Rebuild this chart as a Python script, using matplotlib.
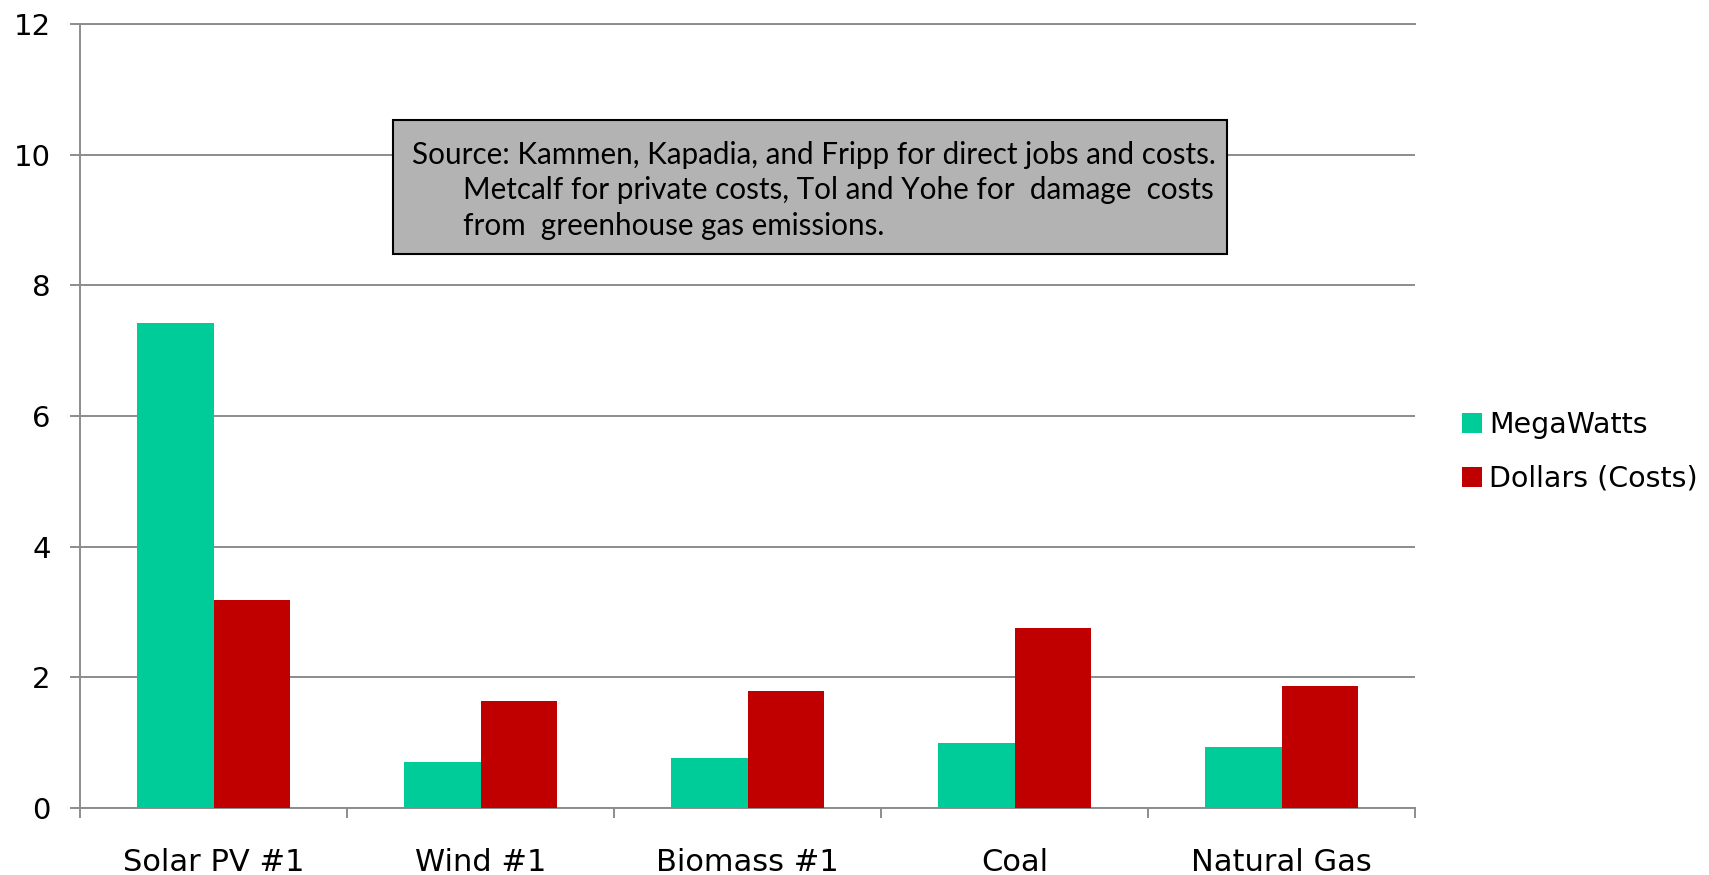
import numpy as np
import matplotlib
matplotlib.use('Agg')
import matplotlib.pyplot as plt
from matplotlib.patches import Rectangle

categories = ['Solar PV #1', 'Wind #1', 'Biomass #1', 'Coal', 'Natural Gas']
megawatts = [7.42, 0.70, 0.77, 1.00, 0.94]
dollars = [3.19, 1.64, 1.79, 2.75, 1.87]
series_names = ['MegaWatts', 'Dollars (Costs)']
source_lines = [
    'Source: Kammen, Kapadia, and Fripp for direct jobs and costs.',
    'Metcalf for private costs, Tol and Yohe for  damage  costs',
    'from  greenhouse gas emissions.',
]

green = '#00CC99'
red = '#C00000'
grey = '#8C8C8C'
tick_font = ['DejaVu Sans']
box_font = ['Lato', 'DejaVu Sans']

W, H = 1709, 875
fig = plt.figure(figsize=(W / 100, H / 100), dpi=100)
ax = fig.add_axes([80 / W, 1 - 808 / H, (1415 - 80) / W, (808 - 24) / H])

x = np.arange(len(categories))
w = 0.285
ax.bar(x - w / 2, megawatts, w, color=green, label=series_names[0], zorder=3)
ax.bar(x + w / 2, dollars, w, color=red, label=series_names[1], zorder=3)

ax.set_xlim(-0.5, len(categories) - 0.5)
ax.set_ylim(0, 12)
ax.set_yticks(np.arange(0, 13, 2))
ax.yaxis.grid(True, color=grey, linewidth=1.4, zorder=0)
ax.set_axisbelow(True)

ax.spines['right'].set_visible(False)
for s in ['left', 'bottom', 'top']:
    ax.spines[s].set_color(grey)
    ax.spines[s].set_linewidth(1.4)

ax.set_xticks(x)
ax.set_xticklabels(categories)
ax.set_xticks(np.arange(-0.5, len(categories), 1.0), minor=True)
ax.tick_params(axis='x', which='major', length=0, pad=29)
ax.tick_params(axis='x', which='minor', length=7, width=1.4, color=grey)
ax.tick_params(axis='y', length=7, width=1.4, color=grey, pad=14)
for lab in ax.get_xticklabels():
    lab.set_family(tick_font)
    lab.set_fontsize(22)
for lab in ax.get_yticklabels():
    lab.set_family(tick_font)
    lab.set_fontsize(21)

leg = ax.legend(loc='center left', bbox_to_anchor=(1436 / W, 1 - 452 / H),
                bbox_transform=fig.transFigure, frameon=False,
                prop={'family': tick_font, 'size': 20.5},
                handlelength=0.72, handleheight=0.72, handletextpad=0.25,
                labelspacing=0.9)

# source box
fig.patches.append(Rectangle((393 / W, 1 - 254 / H), (1227 - 393) / W, (254 - 120) / H,
                             transform=fig.transFigure, facecolor='#B3B3B3',
                             edgecolor='black', linewidth=1.5, zorder=5))
line_x = [412, 463, 463]
line_y = [155, 190, 226]
for t, lx, ly in zip(source_lines, line_x, line_y):
    fig.text(lx / W, 1 - ly / H, t, ha='left', va='center', fontsize=21.3,
             family=box_font, zorder=6)

fig.savefig('out.png', dpi=100)
